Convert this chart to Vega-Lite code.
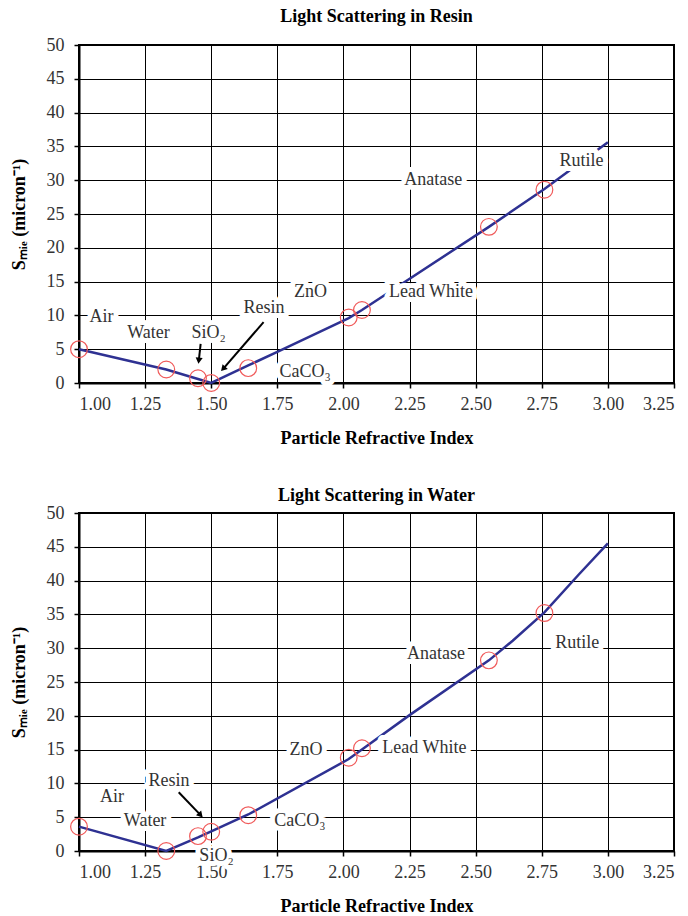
{
  "$schema": "https://vega.github.io/schema/vega-lite/v6.json",
  "background": "white",
  "padding": {"left": 9, "top": 7, "right": 8, "bottom": 2},
  "spacing": 38,
  "config": {
    "font": "Liberation Serif",
    "view": {"stroke": "black", "strokeWidth": 2},
    "axis": {
      "grid": true,
      "gridColor": "black",
      "gridOpacity": 1,
      "gridWidth": 1,
      "domainColor": "black",
      "domainWidth": 2,
      "tickColor": "black",
      "tickSize": 5,
      "tickWidth": 1.5,
      "labelFont": "Liberation Serif",
      "labelFontSize": 18,
      "labelColor": "#333333",
      "titleFont": "Liberation Serif",
      "titleFontSize": 18,
      "titleFontWeight": "bold",
      "titleColor": "black"
    },
    "axisX": {"labelPadding": 7, "titlePadding": 16},
    "axisY": {"labelPadding": 10, "titlePadding": 18},
    "title": {"font": "Liberation Serif", "fontSize": 18, "fontWeight": "bold", "color": "black", "offset": 10}
  },
  "datasets": {
    "resinCurve": [
      {"n": 1.0, "s": 5.0}, {"n": 1.33, "s": 2.0}, {"n": 1.45, "s": 0.6}, {"n": 1.5, "s": 0.0},
      {"n": 1.64, "s": 2.6}, {"n": 1.75, "s": 4.6}, {"n": 2.02, "s": 9.6}, {"n": 2.07, "s": 10.8},
      {"n": 2.55, "s": 23.1}, {"n": 2.76, "s": 28.7}, {"n": 3.0, "s": 35.6}
    ],
    "resinPoints": [
      {"material": "Air", "n": 1.0, "s": 5.0},
      {"material": "Water", "n": 1.33, "s": 2.0},
      {"material": "SiO2", "n": 1.45, "s": 0.7},
      {"material": "Resin", "n": 1.5, "s": 0.0},
      {"material": "CaCO3", "n": 1.64, "s": 2.2},
      {"material": "ZnO", "n": 2.02, "s": 9.7},
      {"material": "Lead White", "n": 2.07, "s": 10.8},
      {"material": "Anatase", "n": 2.55, "s": 23.1},
      {"material": "Rutile", "n": 2.76, "s": 28.6}
    ],
    "resinLabels": [
      {"label": "Air", "n": 1.085, "s": 9.7},
      {"label": "Water", "n": 1.263, "s": 7.4},
      {"label": "SiO₂", "n": 1.49, "s": 7.4},
      {"label": "Resin", "n": 1.70, "s": 11.1},
      {"label": "ZnO", "n": 1.875, "s": 13.4},
      {"label": "CaCO₃", "n": 1.855, "s": 1.7},
      {"label": "Lead White", "n": 2.331, "s": 13.5},
      {"label": "Anatase", "n": 2.34, "s": 30.0},
      {"label": "Rutile", "n": 2.90, "s": 32.8}
    ],
    "resinArrows": [
      {"arrow": "SiO2", "n": 1.46, "s": 5.8, "n2": 1.453, "s2": 3.3},
      {"arrow": "Resin", "n": 1.698, "s": 9.0, "n2": 1.545, "s2": 2.1}
    ],
    "waterCurve": [
      {"n": 1.0, "s": 3.6}, {"n": 1.33, "s": 0.0}, {"n": 1.45, "s": 2.0}, {"n": 1.5, "s": 2.9},
      {"n": 1.64, "s": 5.4}, {"n": 2.02, "s": 13.6}, {"n": 2.07, "s": 15.0}, {"n": 2.25, "s": 20.1},
      {"n": 2.55, "s": 28.2}, {"n": 2.64, "s": 31.1}, {"n": 2.76, "s": 35.3}, {"n": 2.89, "s": 40.9},
      {"n": 3.0, "s": 45.5}
    ],
    "waterPoints": [
      {"material": "Air", "n": 1.0, "s": 3.6},
      {"material": "Water", "n": 1.33, "s": 0.0},
      {"material": "SiO2", "n": 1.45, "s": 2.2},
      {"material": "Resin", "n": 1.5, "s": 2.85},
      {"material": "CaCO3", "n": 1.64, "s": 5.3},
      {"material": "ZnO", "n": 2.02, "s": 13.8},
      {"material": "Lead White", "n": 2.07, "s": 15.2},
      {"material": "Anatase", "n": 2.55, "s": 28.2},
      {"material": "Rutile", "n": 2.76, "s": 35.2}
    ],
    "waterLabels": [
      {"label": "Air", "n": 1.125, "s": 8.0},
      {"label": "Water", "n": 1.25, "s": 4.4},
      {"label": "Resin", "n": 1.34, "s": 10.4},
      {"label": "SiO₂", "n": 1.52, "s": -0.8},
      {"label": "CaCO₃", "n": 1.835, "s": 4.4},
      {"label": "ZnO", "n": 1.858, "s": 15.0},
      {"label": "Lead White", "n": 2.306, "s": 15.3},
      {"label": "Anatase", "n": 2.35, "s": 29.1},
      {"label": "Rutile", "n": 2.884, "s": 30.7}
    ],
    "waterArrows": [
      {"arrow": "Resin", "n": 1.377, "s": 8.7, "n2": 1.46, "s2": 5.3}
    ]
  },
  "vconcat": [
    {
      "title": {"text": "Light Scattering in Resin", "offset": 10},
      "width": 595,
      "height": 338,
      "encoding": {
        "x": {"field": "n", "type": "quantitative",
          "scale": {"domain": [1, 3.25], "nice": false},
          "axis": {"values": [1, 1.25, 1.5, 1.75, 2, 2.25, 2.5, 2.75, 3, 3.25], "format": ".2f", "title": "Particle Refractive Index"}},
        "y": {"field": "s", "type": "quantitative",
          "scale": {"domain": [0, 50], "nice": false},
          "axis": {"values": [0, 5, 10, 15, 20, 25, 30, 35, 40, 45, 50], "title": "Sₘᵢₑ (micron⁻¹)"}}
      },
      "layer": [
        {"data": {"name": "resinCurve"}, "mark": {"type": "line", "color": "#2e3192", "strokeWidth": 2.5}},
        {"data": {"name": "resinArrows"}, "mark": {"type": "rule", "color": "black", "strokeWidth": 2},
          "encoding": {"x2": {"field": "n2"}, "y2": {"field": "s2"}}},
        {"data": {"name": "resinArrows"}, "transform": [{"filter": "datum.arrow === 'SiO2'"}],
          "mark": {"type": "point", "shape": "triangle-up", "filled": true, "color": "black", "size": 50, "angle": 187, "opacity": 1},
          "encoding": {"x": {"field": "n2", "type": "quantitative"}, "y": {"field": "s2", "type": "quantitative"}}},
        {"data": {"name": "resinArrows"}, "transform": [{"filter": "datum.arrow === 'Resin'"}],
          "mark": {"type": "point", "shape": "triangle-up", "filled": true, "color": "black", "size": 50, "angle": 222, "opacity": 1},
          "encoding": {"x": {"field": "n2", "type": "quantitative"}, "y": {"field": "s2", "type": "quantitative"}}},
        {"data": {"name": "resinLabels"}, "mark": {"type": "text", "font": "Liberation Serif", "fontSize": 18, "fill": "white", "stroke": "white", "strokeWidth": 10, "strokeJoin": "round", "baseline": "middle", "clip": false},
          "encoding": {"text": {"field": "label"}}},
        {"data": {"name": "resinLabels"}, "mark": {"type": "text", "font": "Liberation Serif", "fontSize": 18, "color": "#333333", "baseline": "middle"},
          "encoding": {"text": {"field": "label"}}},
        {"data": {"name": "resinPoints"}, "mark": {"type": "point", "shape": "circle", "filled": false, "color": "#f05a5a", "size": 280, "strokeWidth": 1.2, "opacity": 1}}
      ]
    },
    {
      "title": {"text": "Light Scattering in Water", "offset": -1},
      "width": 595,
      "height": 338,
      "encoding": {
        "x": {"field": "n", "type": "quantitative",
          "scale": {"domain": [1, 3.25], "nice": false},
          "axis": {"values": [1, 1.25, 1.5, 1.75, 2, 2.25, 2.5, 2.75, 3, 3.25], "format": ".2f", "title": "Particle Refractive Index"}},
        "y": {"field": "s", "type": "quantitative",
          "scale": {"domain": [0, 50], "nice": false},
          "axis": {"values": [0, 5, 10, 15, 20, 25, 30, 35, 40, 45, 50], "title": "Sₘᵢₑ (micron⁻¹)"}}
      },
      "layer": [
        {"data": {"name": "waterCurve"}, "mark": {"type": "line", "color": "#2e3192", "strokeWidth": 2.5}},
        {"data": {"name": "waterArrows"}, "mark": {"type": "rule", "color": "black", "strokeWidth": 2},
          "encoding": {"x2": {"field": "n2"}, "y2": {"field": "s2"}}},
        {"data": {"name": "waterArrows"},
          "mark": {"type": "point", "shape": "triangle-up", "filled": true, "color": "black", "size": 50, "angle": 137, "opacity": 1},
          "encoding": {"x": {"field": "n2", "type": "quantitative"}, "y": {"field": "s2", "type": "quantitative"}}},
        {"data": {"name": "waterLabels"}, "mark": {"type": "text", "font": "Liberation Serif", "fontSize": 18, "fill": "white", "stroke": "white", "strokeWidth": 10, "strokeJoin": "round", "baseline": "middle", "clip": false},
          "encoding": {"text": {"field": "label"}}},
        {"data": {"name": "waterLabels"}, "mark": {"type": "text", "font": "Liberation Serif", "fontSize": 18, "color": "#333333", "baseline": "middle"},
          "encoding": {"text": {"field": "label"}}},
        {"data": {"name": "waterPoints"}, "mark": {"type": "point", "shape": "circle", "filled": false, "color": "#f05a5a", "size": 280, "strokeWidth": 1.2, "opacity": 1}}
      ]
    }
  ]
}
